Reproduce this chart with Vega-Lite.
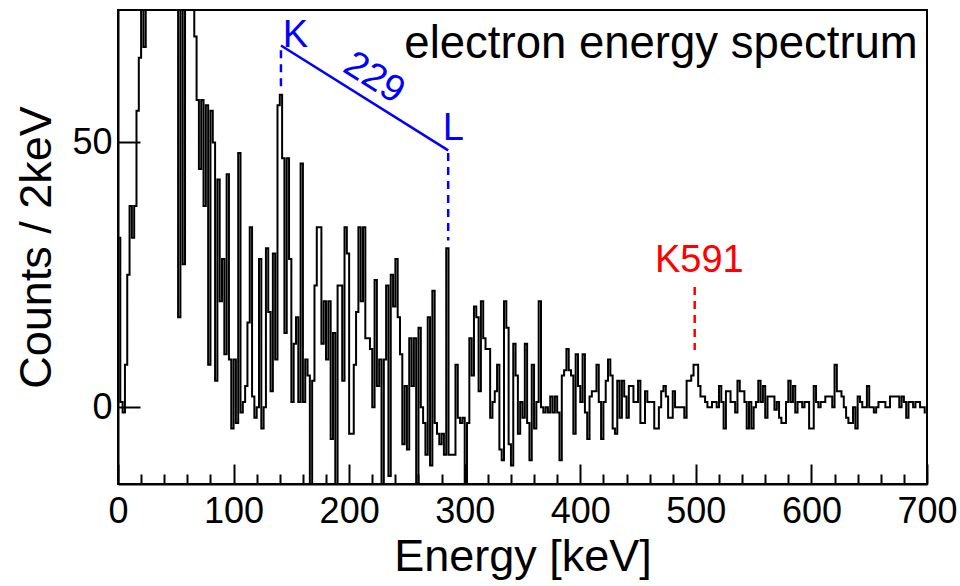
{
  "$schema": "https://vega.github.io/schema/vega-lite/v6.json",
  "width": 809,
  "height": 474,
  "autosize": {"type": "none"},
  "padding": {"left": 118, "top": 10, "right": 33, "bottom": 102},
  "background": "white",
  "config": {
    "view": {"stroke": "black", "strokeWidth": 2},
    "font": "Liberation Sans",
    "axis": {"grid": false, "domainColor": "black", "domainWidth": 2, "tickColor": "black", "tickWidth": 2, "labelColor": "black", "titleColor": "black", "labelFont": "Liberation Sans", "titleFont": "Liberation Sans", "labelFontSize": 36, "titleFontSize": 45, "titleFontWeight": "normal", "labelOverlap": false}
  },
  "datasets": {
    "spec": [
      {"E":1,"c":32},{"E":3,"c":1},{"E":5,"c":-1},{"E":7,"c":8},{"E":9,"c":25},{"E":11,"c":38},{"E":13,"c":32},{"E":15,"c":38},{"E":17,"c":56},{"E":19,"c":66},
      {"E":21,"c":78},{"E":23,"c":68},{"E":25,"c":92},{"E":27,"c":110},{"E":29,"c":125},{"E":31,"c":140},{"E":33,"c":150},{"E":35,"c":135},{"E":37,"c":145},{"E":39,"c":128},
      {"E":41,"c":120},{"E":43,"c":110},{"E":45,"c":102},{"E":47,"c":118},{"E":49,"c":96},{"E":51,"c":104},{"E":53,"c":17},{"E":55,"c":100},{"E":57,"c":27},{"E":59,"c":95},
      {"E":61,"c":105},{"E":63,"c":90},{"E":65,"c":82},{"E":67,"c":70},{"E":69,"c":58},{"E":71,"c":45},{"E":73,"c":58},{"E":75,"c":38},{"E":77,"c":57},{"E":79,"c":8},
      {"E":81,"c":56},{"E":83,"c":50},{"E":85,"c":5},{"E":87,"c":43},{"E":89,"c":20},{"E":91,"c":28},{"E":93,"c":10},{"E":95,"c":44},{"E":97,"c":9},{"E":99,"c":-4},
      {"E":101,"c":9},{"E":103,"c":-3},{"E":105,"c":48},{"E":107,"c":-1},{"E":109,"c":1},{"E":111,"c":4},{"E":113,"c":16},{"E":115,"c":34},{"E":117,"c":2},{"E":119,"c":-2},
      {"E":121,"c":0},{"E":123,"c":28},{"E":125,"c":-4},{"E":127,"c":0},{"E":129,"c":30},{"E":131,"c":18},{"E":133,"c":3},{"E":135,"c":29},{"E":137,"c":9},{"E":139,"c":57},
      {"E":141,"c":59},{"E":143,"c":47},{"E":145,"c":14},{"E":147,"c":47},{"E":149,"c":28},{"E":151,"c":1},{"E":153,"c":12},{"E":155,"c":17},{"E":157,"c":1},{"E":159,"c":46},
      {"E":161,"c":1},{"E":163,"c":9},{"E":165,"c":6},{"E":167,"c":-16},{"E":169,"c":5},{"E":171,"c":23},{"E":173,"c":34},{"E":175,"c":34},{"E":177,"c":12},{"E":179,"c":20},
      {"E":181,"c":9},{"E":183,"c":20},{"E":185,"c":-6},{"E":187,"c":14},{"E":189,"c":-16},{"E":191,"c":23},{"E":193,"c":23},{"E":195,"c":5},{"E":197,"c":34},{"E":199,"c":29},
      {"E":201,"c":-5},{"E":203,"c":-5},{"E":205,"c":8},{"E":207,"c":18},{"E":209,"c":34},{"E":211,"c":20},{"E":213,"c":34},{"E":215,"c":13},{"E":217,"c":13},{"E":219,"c":11},
      {"E":221,"c":0},{"E":223,"c":24},{"E":225,"c":4},{"E":227,"c":9},{"E":229,"c":-15},{"E":231,"c":9},{"E":233,"c":23},{"E":235,"c":-13},{"E":237,"c":25},{"E":239,"c":19},
      {"E":241,"c":28},{"E":243,"c":17},{"E":245,"c":10},{"E":247,"c":-7},{"E":249,"c":4},{"E":251,"c":-8},{"E":253,"c":13},{"E":255,"c":4},{"E":257,"c":13},{"E":259,"c":-15},
      {"E":261,"c":15},{"E":263,"c":0},{"E":265,"c":-3},{"E":267,"c":-9},{"E":269,"c":17},{"E":271,"c":-11},{"E":273,"c":22},{"E":275,"c":-3},{"E":277,"c":-5},{"E":279,"c":-7},
      {"E":281,"c":-5},{"E":283,"c":-9},{"E":285,"c":30},{"E":287,"c":-9},{"E":289,"c":-9},{"E":291,"c":-9},{"E":293,"c":8},{"E":295,"c":-2},{"E":297,"c":-3},{"E":299,"c":-2},
      {"E":301,"c":-15},{"E":303,"c":-3},{"E":305,"c":13},{"E":307,"c":6},{"E":309,"c":19},{"E":311,"c":17},{"E":313,"c":3},{"E":315,"c":20},{"E":317,"c":13},{"E":319,"c":11},
      {"E":321,"c":11},{"E":323,"c":-2},{"E":325,"c":1},{"E":327,"c":3},{"E":329,"c":8},{"E":331,"c":-8},{"E":333,"c":-10},{"E":335,"c":20},{"E":337,"c":15},{"E":339,"c":-7},
      {"E":341,"c":-11},{"E":343,"c":12},{"E":345,"c":6},{"E":347,"c":-5},{"E":349,"c":1},{"E":351,"c":-2},{"E":353,"c":12},{"E":355,"c":-3},{"E":357,"c":-10},{"E":359,"c":8},
      {"E":361,"c":-4},{"E":363,"c":1},{"E":365,"c":20},{"E":367,"c":0},{"E":369,"c":-1},{"E":371,"c":0},{"E":373,"c":-1},{"E":375,"c":2},{"E":377,"c":-1},{"E":379,"c":2},
      {"E":381,"c":-1},{"E":383,"c":-10},{"E":385,"c":6},{"E":387,"c":7},{"E":389,"c":11},{"E":391,"c":7},{"E":393,"c":6},{"E":395,"c":-5},{"E":397,"c":10},{"E":399,"c":4},
      {"E":401,"c":1},{"E":403,"c":10},{"E":405,"c":-1},{"E":407,"c":-6},{"E":409,"c":2},{"E":411,"c":3},{"E":413,"c":3},{"E":415,"c":8},{"E":417,"c":1},{"E":419,"c":-6},
      {"E":421,"c":1},{"E":423,"c":5},{"E":425,"c":9},{"E":427,"c":6},{"E":429,"c":-4},{"E":431,"c":-5},{"E":433,"c":5},{"E":435,"c":-2},{"E":437,"c":5},{"E":439,"c":2},
      {"E":441,"c":-2},{"E":443,"c":4},{"E":445,"c":4},{"E":447,"c":1},{"E":449,"c":1},{"E":451,"c":5},{"E":453,"c":-3},{"E":455,"c":-3},{"E":457,"c":3},{"E":459,"c":1},
      {"E":461,"c":1},{"E":463,"c":1},{"E":465,"c":-4},{"E":467,"c":-4},{"E":469,"c":0},{"E":471,"c":3},{"E":473,"c":4},{"E":475,"c":2},{"E":477,"c":-2},{"E":479,"c":-2},
      {"E":481,"c":3},{"E":483,"c":0},{"E":485,"c":0},{"E":487,"c":0},{"E":489,"c":0},{"E":491,"c":-2},{"E":493,"c":5},{"E":495,"c":5},{"E":497,"c":6},{"E":499,"c":8},
      {"E":501,"c":8},{"E":503,"c":4},{"E":505,"c":2},{"E":507,"c":2},{"E":509,"c":1},{"E":511,"c":0},{"E":513,"c":0},{"E":515,"c":1},{"E":517,"c":1},{"E":519,"c":0},
      {"E":521,"c":4},{"E":523,"c":1},{"E":525,"c":-4},{"E":527,"c":3},{"E":529,"c":3},{"E":531,"c":1},{"E":533,"c":1},{"E":535,"c":-1},{"E":537,"c":5},{"E":539,"c":3},
      {"E":541,"c":3},{"E":543,"c":1},{"E":545,"c":-4},{"E":547,"c":1},{"E":549,"c":-4},{"E":551,"c":0},{"E":553,"c":1},{"E":555,"c":5},{"E":557,"c":1},{"E":559,"c":4},
      {"E":561,"c":-2},{"E":563,"c":2},{"E":565,"c":2},{"E":567,"c":2},{"E":569,"c":-0.5},{"E":571,"c":1},{"E":573,"c":-2},{"E":575,"c":-3},{"E":577,"c":-3},{"E":579,"c":1},
      {"E":581,"c":5},{"E":583,"c":1},{"E":585,"c":4},{"E":587,"c":-1},{"E":589,"c":1},{"E":591,"c":1},{"E":593,"c":0},{"E":595,"c":1},{"E":597,"c":1},{"E":599,"c":-4},
      {"E":601,"c":-4},{"E":603,"c":4},{"E":605,"c":1},{"E":607,"c":0},{"E":609,"c":1},{"E":611,"c":1},{"E":613,"c":2},{"E":615,"c":2},{"E":617,"c":2},{"E":619,"c":0},
      {"E":621,"c":8},{"E":623,"c":3},{"E":625,"c":3},{"E":627,"c":2},{"E":629,"c":0},{"E":631,"c":-2},{"E":633,"c":-3},{"E":635,"c":-3},{"E":637,"c":0},{"E":639,"c":-4},
      {"E":641,"c":2},{"E":643,"c":1},{"E":645,"c":0},{"E":647,"c":0},{"E":649,"c":4},{"E":651,"c":0},{"E":653,"c":0},{"E":655,"c":-1},{"E":657,"c":0},{"E":659,"c":1},
      {"E":661,"c":1},{"E":663,"c":1},{"E":665,"c":0},{"E":667,"c":0},{"E":669,"c":2},{"E":671,"c":2},{"E":673,"c":2},{"E":675,"c":2},{"E":677,"c":0},{"E":679,"c":2},
      {"E":681,"c":1},{"E":683,"c":-2},{"E":685,"c":1},{"E":687,"c":1},{"E":689,"c":0},{"E":691,"c":1},{"E":693,"c":1},{"E":695,"c":0},{"E":697,"c":0},{"E":699,"c":-1}
    ],
    "klLine": [{"E": 141, "c": 68.3}, {"E": 285.7, "c": 48.5}],
    "klDash": [{"E": 141, "c1": 67.4, "c2": 60.5}, {"E": 285.7, "c1": 48.0, "c2": 31.5}],
    "redDash": [{"E": 499, "c1": 22.7, "c2": 10.8}],
    "klText": [{"t": "K", "E": 142.5, "c": 68}, {"t": "L", "E": 281, "c": 50.4}],
    "klNum": [{"t": "229", "E": 221.5, "c": 62.1}],
    "redText": [{"t": "K591", "E": 503, "c": 25.5}],
    "titleText": [{"t": "electron energy spectrum", "E": 692, "c": 66}]
  },
  "resolve": {"axis": {"x": "independent"}},
  "layer": [
    {
      "data": {"name": "spec"},
      "mark": {"type": "line", "interpolate": "step", "color": "black", "strokeWidth": 2, "clip": true},
      "encoding": {
        "x": {
          "field": "E", "type": "quantitative",
          "scale": {"domain": [0, 700], "nice": false, "zero": false},
          "axis": {
            "orient": "bottom",
            "title": "Energy [keV]",
            "values": [0, 100, 200, 300, 400, 500, 600, 700],
            "tickSize": -20,
            "labelPadding": 30,
            "labelFlush": false,
            "labelBound": false,
            "titlePadding": 5
          }
        },
        "y": {
          "field": "c", "type": "quantitative",
          "scale": {"domain": [-14.5, 75], "nice": false, "zero": false},
          "axis": {
            "title": "Counts / 2keV",
            "values": [0, 50],
            "tickSize": -22,
            "labelPadding": 28,
            "titlePadding": 12
          }
        }
      }
    },
    {
      "data": {"name": "klLine"},
      "mark": {"type": "line", "color": "#0000ff", "strokeWidth": 2.5},
      "encoding": {
        "x": {
          "field": "E", "type": "quantitative",
          "axis": {
            "orient": "bottom",
            "title": null,
            "labels": false,
            "domain": false,
            "values": [20,40,60,80,120,140,160,180,220,240,260,280,320,340,360,380,420,440,460,480,520,540,560,580,620,640,660,680],
            "tickSize": -10
          }
        },
        "y": {"field": "c", "type": "quantitative"}
      }
    },
    {
      "data": {"name": "klDash"},
      "mark": {"type": "rule", "color": "#0000ff", "strokeWidth": 2.5, "strokeDash": [8, 6]},
      "encoding": {"x": {"field": "E", "type": "quantitative", "axis": null}, "y": {"field": "c1", "type": "quantitative"}, "y2": {"field": "c2"}}
    },
    {
      "data": {"name": "redDash"},
      "mark": {"type": "rule", "color": "#ff0000", "strokeWidth": 2.5, "strokeDash": [8, 6]},
      "encoding": {"x": {"field": "E", "type": "quantitative", "axis": null}, "y": {"field": "c1", "type": "quantitative"}, "y2": {"field": "c2"}}
    },
    {
      "data": {"name": "klText"},
      "mark": {"type": "text", "color": "#0000ff", "fontSize": 38, "align": "left", "baseline": "alphabetic", "font": "Liberation Sans"},
      "encoding": {"x": {"field": "E", "type": "quantitative", "axis": null}, "y": {"field": "c", "type": "quantitative"}, "text": {"field": "t"}}
    },
    {
      "data": {"name": "klNum"},
      "mark": {"type": "text", "color": "#0000ff", "fontSize": 38, "align": "center", "baseline": "middle", "angle": 32, "font": "Liberation Sans"},
      "encoding": {"x": {"field": "E", "type": "quantitative", "axis": null}, "y": {"field": "c", "type": "quantitative"}, "text": {"field": "t"}}
    },
    {
      "data": {"name": "redText"},
      "mark": {"type": "text", "color": "#ff0000", "fontSize": 38, "align": "center", "baseline": "alphabetic", "font": "Liberation Sans"},
      "encoding": {"x": {"field": "E", "type": "quantitative", "axis": null}, "y": {"field": "c", "type": "quantitative"}, "text": {"field": "t"}}
    },
    {
      "data": {"name": "titleText"},
      "mark": {"type": "text", "color": "black", "fontSize": 45.5, "align": "right", "baseline": "alphabetic", "font": "Liberation Sans"},
      "encoding": {"x": {"field": "E", "type": "quantitative", "axis": null}, "y": {"field": "c", "type": "quantitative"}, "text": {"field": "t"}}
    }
  ]
}
